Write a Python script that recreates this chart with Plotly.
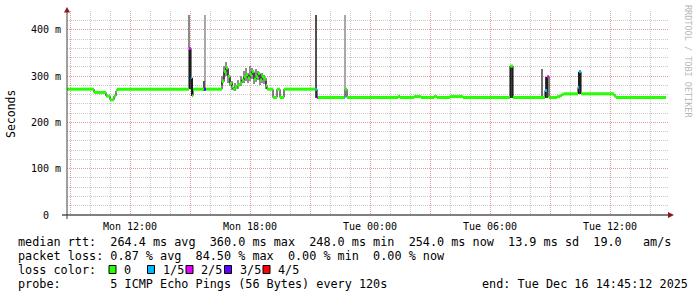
import plotly.graph_objects as go

# ---------------- data (time in hours since Mon 2025-12-15 00:00, rtt in ms) -------------
med_t = [8.85, 10.2, 10.8, 11.0, 11.2, 11.3, 11.35, 14.95, 15.05, 15.1, 15.15, 15.7, 15.8,
         16.6, 16.7, 16.8, 16.9, 17.0, 17.1, 17.15, 17.25, 17.35, 17.5, 17.6, 17.7, 17.8,
         17.9, 18.0, 18.1, 18.2, 18.3, 18.4, 18.5, 18.6, 18.7, 18.8, 18.85, 19.15, 19.35,
         19.5, 19.7, 21.25, 21.35, 21.4, 22.7, 22.75, 22.85, 25.4, 25.5, 26.2, 26.55, 27.2,
         27.35, 28.0, 28.65, 31.0, 31.15, 32.75, 32.85, 32.95, 33.35, 33.5, 33.6, 33.7,
         34.4, 34.45, 34.55, 36.2, 36.3, 38.8]
med_v = [272, 265, 257, 249, 257, 268, 272, 360, 297, 258, 272, 272, 272,
         288, 310, 318, 300, 285, 277, 272, 276, 281, 285, 292, 299, 303,
         296, 303, 310, 294, 299, 306, 292, 299, 296, 280, 272, 254, 272,
         254, 272, 272, 254, 254, 254, 272, 254, 256, 254, 256, 254, 256,
         254, 256, 254, 322, 254, 269, 299, 254, 256, 258, 261, 262,
         276, 310, 262, 258, 254, 254]
med_loss = [0, 0, 0, 0, 0, 0, 0, 2, 1, 0, 0, 3, 0,
            0, 0, 0, 0, 0, 0, 0, 0, 0, 0, 0, 0, 0,
            0, 0, 0, 0, 0, 0, 0, 0, 0, 0, 0, 0, 0,
            0, 0, 1, 2, 0, 1, 0, 0, 0, 0, 0, 0, 0,
            0, 0, 0, 0, 0, 1, 2, 0, 0, 0, 0, 0,
            1, 1, 0, 0, 0, 0]

smoke_t = [14.97, 15.77, 22.77, 15.0, 15.08, 15.72, 21.3, 31.07, 32.6, 32.82, 34.47,
           16.6, 16.7, 16.8, 16.9, 17.0, 17.1, 17.25, 17.4, 17.55, 17.7, 17.8, 17.9,
           18.0, 18.1, 18.2, 18.3, 18.4, 18.5, 18.6, 18.7, 18.8]
smoke_lo = [360, 272, 272, 272, 258, 268, 254, 254, 254, 254, 262,
            280, 295, 300, 285, 278, 270, 268, 272, 278, 285, 290, 285,
            290, 295, 283, 288, 292, 282, 285, 283, 272]
smoke_hi = [432, 432, 432, 360, 297, 290, 432, 322, 316, 299, 310,
            300, 322, 331, 315, 298, 290, 285, 292, 300, 312, 318, 308,
            322, 318, 306, 315, 312, 305, 308, 302, 290]
smoke_w = [0.07, 0.06, 0.06, 0.1, 0.05, 0.05, 0.05, 0.15, 0.05, 0.15, 0.12,
           0.1, 0.1, 0.1, 0.1, 0.1, 0.1, 0.1, 0.1, 0.1, 0.1, 0.1, 0.1,
           0.1, 0.1, 0.1, 0.1, 0.1, 0.1, 0.1, 0.1, 0.1]
smoke_shade = ["#8a8a8a", "#a8a8a8", "#a8a8a8", "#3a3a3a", "#3a3a3a", "#505050", "#505050",
               "#3a3a3a", "#707070", "#3a3a3a", "#3a3a3a"] + ["#8e8e8e"] * 21

loss_colors = ["#26ff00", "#00b8ff", "#e200ff", "#5e00ff", "#ff0000"]
loss_labels = ["0", "1/5", "2/5", "3/5", "4/5"]

x_tickvals = [9, 12, 15, 18, 21, 24, 27, 30, 33, 36]
x_ticktext = ["", "Mon 12:00", "", "Mon 18:00", "", "Tue 00:00", "", "Tue 06:00", "", "Tue 12:00"]
y_tickvals = [0, 100, 200, 300, 400]
y_ticktext = ["0\u00a0\u00a0", "100 m", "200 m", "300 m", "400 m"]

line_rtt = "median rtt:  264.4 ms avg  360.0 ms max  248.0 ms min  254.0 ms now  13.9 ms sd  19.0   am/s"
line_loss = "packet loss: 0.87 % avg  84.50 % max  0.00 % min  0.00 % now"
line_probe = "probe:       5 ICMP Echo Pings (56 Bytes) every 120s"
line_end = "end: Tue Dec 16 14:45:12 2025"

# ---------------- layout geometry ----------------
W, H = 697, 297
L, R, T, B = 67, 668, 11, 215
MONO = "DejaVu Sans Mono"


def px(x):
    return (x - L) / (R - L)


def py(y):
    return (B - y) / (B - T)


def nb(s):
    return s.replace(" ", "\u00a0")


fig = go.Figure()

# smoke
for shade in dict.fromkeys(smoke_shade):
    idx = [i for i, s in enumerate(smoke_shade) if s == shade]
    fig.add_trace(go.Bar(
        x=[smoke_t[i] for i in idx],
        y=[smoke_hi[i] - smoke_lo[i] for i in idx],
        base=[smoke_lo[i] for i in idx],
        width=[smoke_w[i] for i in idx],
        marker=dict(color=shade, line=dict(width=0)),
        showlegend=False, hoverinfo="skip"))

# median step connector
fig.add_trace(go.Scatter(x=med_t, y=med_v, mode="lines", line_shape="hv",
                         line=dict(color="#000000", width=1), showlegend=False, hoverinfo="skip"))

# coloured median segments by loss
for lvl, col in enumerate(loss_colors):
    xs, ys = [], []
    for i in range(len(med_t) - 1):
        if med_loss[i] == lvl:
            xs += [med_t[i], med_t[i + 1], None]
            ys += [med_v[i], med_v[i], None]
    if xs:
        fig.add_trace(go.Scatter(x=xs, y=ys, mode="lines",
                                 line=dict(color=col, width=3), showlegend=False,
                                 hoverinfo="skip"))

shapes = []
# axes lines and arrows
shapes.append(dict(type="line", xref="paper", yref="paper", x0=px(62), x1=px(669),
                   y0=py(215), y1=py(215), line=dict(color="#000000", width=1)))
shapes.append(dict(type="line", xref="paper", yref="paper", x0=px(67), x1=px(67),
                   y0=py(219), y1=py(10), line=dict(color="#404040", width=1)))
shapes.append(dict(type="path", xref="paper", yref="paper",
                   path=f"M {px(668)} {py(212)} L {px(674)} {py(215)} L {px(668)} {py(218)} Z",
                   fillcolor="#8b1a1a", line=dict(width=0)))
shapes.append(dict(type="path", xref="paper", yref="paper",
                   path=f"M {px(64)} {py(12.5)} L {px(67)} {py(7)} L {px(70)} {py(12.5)} Z",
                   fillcolor="#8b1a1a", line=dict(width=0)))

annotations = []
FS = 11.8
for text, yc in [(line_rtt, 241.5), (line_loss, 255.5), (line_probe, 283.5)]:
    annotations.append(dict(text=nb(text), xref="paper", yref="paper", x=px(16), y=py(yc),
                            xanchor="left", yanchor="middle", showarrow=False,
                            font=dict(family=MONO, size=FS, color="#000000")))
annotations.append(dict(text=nb(line_end), xref="paper", yref="paper", x=px(480), y=py(283.5),
                        xanchor="left", yanchor="middle", showarrow=False,
                        font=dict(family=MONO, size=FS, color="#000000")))
annotations.append(dict(text=nb("loss color:"), xref="paper", yref="paper", x=px(16), y=py(269.5),
                        xanchor="left", yanchor="middle", showarrow=False,
                        font=dict(family=MONO, size=FS, color="#000000")))
box_x = [109, 147.5, 186, 224.5, 263]
for i, (col, lab) in enumerate(zip(loss_colors, loss_labels)):
    bx = box_x[i]
    shapes.append(dict(type="rect", xref="paper", yref="paper", x0=px(bx), x1=px(bx + 7),
                       y0=py(273.5), y1=py(265.5), fillcolor=col,
                       line=dict(color="#000000", width=1)))
    annotations.append(dict(text=lab, xref="paper", yref="paper", x=px(bx + 13), y=py(269.5),
                            xanchor="left", yanchor="middle", showarrow=False,
                            font=dict(family=MONO, size=FS, color="#000000")))

# y-axis title
annotations.append(dict(text="Seconds", xref="paper", yref="paper", x=px(11), y=py(114),
                        xanchor="center", yanchor="middle", textangle=-90, showarrow=False,
                        font=dict(family=MONO, size=11.5, color="#000000")))
# watermark
annotations.append(dict(text=nb("RRDTOOL / TOBI OETIKER"), xref="paper", yref="paper",
                        x=px(688), y=py(61), xanchor="center", yanchor="middle",
                        textangle=90, showarrow=False,
                        font=dict(family=MONO, size=8.5, color="#b8b8b8")))

fig.update_layout(
    width=W, height=H,
    margin=dict(l=L, r=W - R, t=T, b=H - B, pad=0),
    paper_bgcolor="#ffffff", plot_bgcolor="#ffffff",
    barmode="overlay", bargap=0, showlegend=False,
    shapes=shapes, annotations=annotations,
    xaxis=dict(range=[8.85, 38.9], tickmode="array", tickvals=x_tickvals, ticktext=x_ticktext,
               showgrid=True, gridcolor="#eb9a9a", griddash="1px,1px", gridwidth=1,
               zeroline=False, showline=False, ticks="", ticklabelstandoff=4,
               tickfont=dict(family=MONO, size=10, color="#000000"),
               minor=dict(tickmode="linear", tick0=0, dtick=1, showgrid=True,
                          gridcolor="#c8c8c8", griddash="1px,1px", gridwidth=1)),
    yaxis=dict(range=[0, 441], tickmode="array", tickvals=y_tickvals, ticktext=y_ticktext,
               showgrid=True, gridcolor="#eb9a9a", griddash="1px,1px", gridwidth=1,
               zeroline=False, showline=False, ticks="", ticklabelstandoff=5,
               tickfont=dict(family=MONO, size=10, color="#000000"),
               minor=dict(tickmode="linear", tick0=0, dtick=20, showgrid=True,
                          gridcolor="#c8c8c8", griddash="1px,1px", gridwidth=1)),
)

fig.write_html("out.html")
